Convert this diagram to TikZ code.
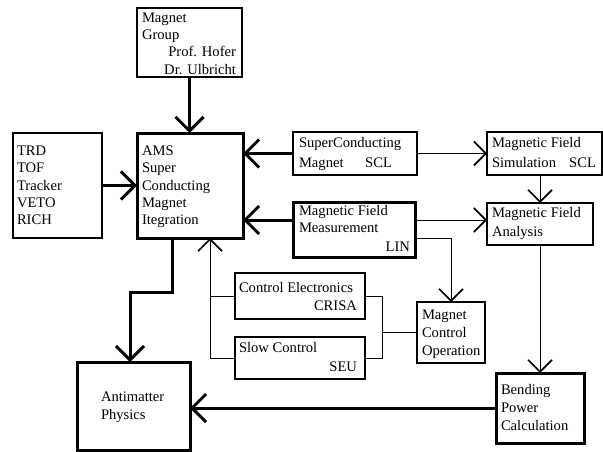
\documentclass[tikz,border=0pt]{standalone}
\usepackage{fontspec}
\setmainfont{Liberation Serif}
\newfontfamily\timesfont{Liberation Serif}
\usetikzlibrary{arrows.meta,calc}
\begin{document}
\begin{tikzpicture}[x=1pt,y=-1pt,
  box/.style={draw,line width=1.1pt,inner sep=0pt,outer sep=0pt,anchor=north west},
  tbox/.style={box,line width=3pt},
  txt/.style={inner sep=0pt,outer sep=0pt,anchor=base west,font=\timesfont\fontsize{14.6}{17.5}\selectfont},
  txr/.style={txt,anchor=base east},
  thickarr/.style={line width=3pt,-{Straight Barb[length=14pt,width=28pt]}},
  thinarr/.style={line width=1pt,-{Straight Barb[length=12pt,width=24pt,line width=1.6pt]}},
  thinline/.style={line width=1pt},
  thickline/.style={line width=3pt}]
\useasboundingbox (0,0) rectangle (603,452);
% boxes
\node[box, minimum width=105pt, minimum height=69pt] (mg) at (137,8) {};
\node[box, minimum width=89pt, minimum height=105pt] (trd) at (13,133) {};
\node[tbox, minimum width=106pt, minimum height=105pt] (ams) at (137,133) {};
\node[box, minimum width=124pt, minimum height=43pt] (scm) at (293,132) {};
\node[box, minimum width=115pt, minimum height=43pt] (sim) at (487,132) {};
\node[tbox, minimum width=122pt, minimum height=55pt] (meas) at (293,202) {};
\node[box, minimum width=106pt, minimum height=42pt] (ana) at (487,203) {};
\node[box, minimum width=130pt, minimum height=46pt] (ce) at (235,273) {};
\node[box, minimum width=130pt, minimum height=42pt] (slow) at (235,337) {};
\node[box, minimum width=68pt, minimum height=61pt] (mc) at (417,302) {};
\node[tbox, minimum width=113pt, minimum height=88pt] (anti) at (77,362) {};
\node[tbox, minimum width=88pt, minimum height=70pt] (bend) at (496,373) {};
% texts
\node[txt] (mg1) at (142,22.5) {Magnet};
\node[txt] (mg2) at (142,39.8) {Group};
\node[txr] (mg3) at (236,57) {Prof. Hofer};
\node[txr] (mg4) at (236,74.5) {Dr. Ulbricht};
\node[txt] (trd1) at (17,155.5) {TRD};
\node[txt] (trd2) at (17,172.8) {TOF};
\node[txt] (trd3) at (17,190.1) {Tracker};
\node[txt] (trd4) at (17,207.4) {VETO};
\node[txt] (trd5) at (17,224.7) {RICH};
\node[txt] (ams1) at (142,155.5) {AMS};
\node[txt] (ams2) at (142,172.8) {Super};
\node[txt] (ams3) at (142,190.1) {Conducting};
\node[txt] (ams4) at (142,207.4) {Magnet};
\node[txt] (ams5) at (142,224.7) {Itegration};
\node[txt] (scm1) at (299,147.5) {SuperConducting};
\node[txt] (scm2) at (299,167.5) {Magnet};
\node[txr] (scm3) at (392,167.5) {SCL};
\node[txt] (sim1) at (492,147.5) {Magnetic Field};
\node[txt] (sim2) at (492,167.5) {Simulation};
\node[txr] (sim3) at (596,167.5) {SCL};
\node[txt] (ana1) at (492,217.5) {Magnetic Field};
\node[txt] (ana2) at (492,236.5) {Analysis};
\node[txt] (meas1) at (299,215.5) {Magnetic Field};
\node[txt] (meas2) at (299,232.5) {Measurement};
\node[txr] (meas3) at (410,251.5) {LIN};
\node[txt] (ce1) at (239,292.5) {Control Electronics};
\node[txr] (ce2) at (357,310.5) {CRISA};
\node[txt] (slow1) at (239,352.5) {Slow Control};
\node[txr] (slow2) at (357,371.5) {SEU};
\node[txt] (mc1) at (422,319.5) {Magnet};
\node[txt] (mc2) at (422,337.5) {Control};
\node[txt] (mc3) at (422,355.5) {Operation};
\node[txt] (anti1) at (101,401.5) {Antimatter};
\node[txt] (anti2) at (101,419.5) {Physics};
\node[txt] (bend1) at (501,394.5) {Bending};
\node[txt] (bend2) at (501,412.5) {Power};
\node[txt] (bend3) at (501,430.5) {Calculation};
% helper coordinates
\coordinate (k1) at (172,292);
\coordinate (k2) at (130,292);
\coordinate (lb) at (210,0);
\coordinate (rb) at (382,0);
% thick connectors
\draw[thickarr] (mg.south) -- (mg.south |- ams.north);
\draw[thickarr] (trd.east) -- (ams.west);
\draw[thickarr] (scm.west) -- (scm.west -| ams.east);
\draw[thickarr] ([yshift=9.5pt]meas.west) -- ([yshift=9.5pt]meas.west -| ams.east);
\draw[thickarr] (ams.south -| k1) -- (k1) -- (k2) -- (k2 |- anti.north);
\draw[thickarr] (bend.west) -- (bend.west -| anti.east);
% thin connectors
\draw[thinarr] (scm.east) -- (scm.east -| sim.west);
\draw[thinarr] (sim.south -| ana.north) -- (ana.north);
\draw[thinarr] ([yshift=9.5pt]meas.east) -- ([yshift=9.5pt]meas.east -| ana.west);
\draw[thinarr] ([yshift=-8.5pt]meas.east) -| (mc.north);
\draw[thinarr] (ana.south) -- (ana.south |- bend.north);
\draw[thinline] (ce.west) -- (ce.west -| lb);
\draw[thinarr] (slow.west) -| (lb |- ams.south);
\draw[thinline] (ce.east) -| (rb |- slow.east) -- (slow.east);
\draw[thinline] (rb |- mc.west) -- (mc.west);
\end{tikzpicture}
\end{document}
